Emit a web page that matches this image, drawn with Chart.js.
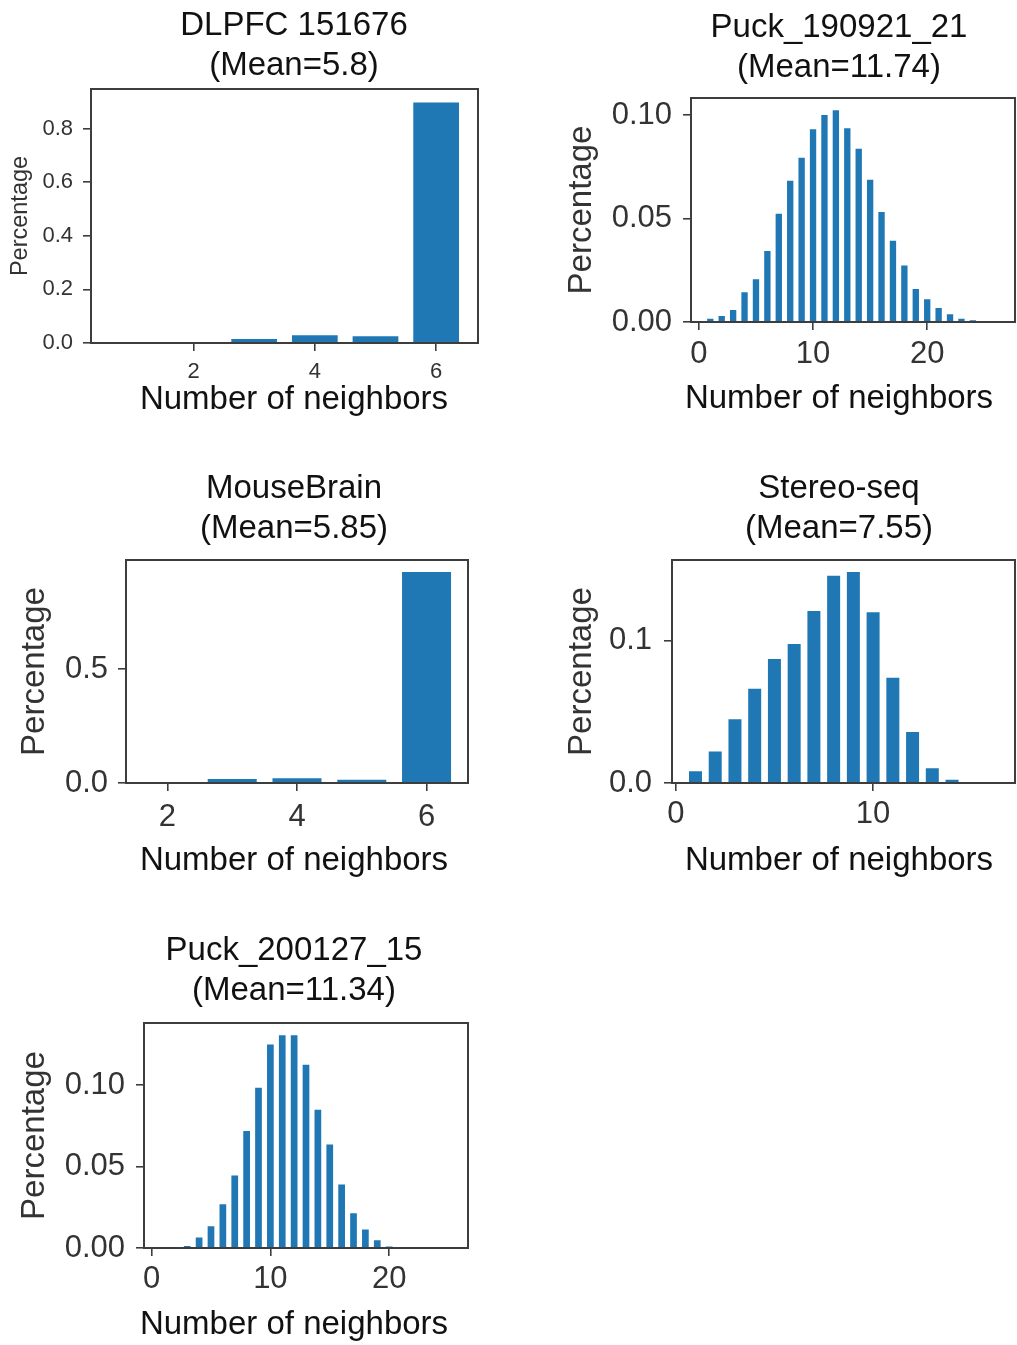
<!DOCTYPE html>
<html>
<head>
<meta charset="utf-8">
<title>Number of neighbors</title>
<script src="https://cdn.jsdelivr.net/npm/chart.js@4.4.1/dist/chart.umd.min.js"></script>
<style>
    html, body { margin: 0; padding: 0; background: #ffffff; width: 1017px; height: 1345px; overflow: hidden; }
    canvas { position: absolute; }
</style>
</head>
<body>
<canvas id="panel1"></canvas>
<canvas id="panel2"></canvas>
<canvas id="panel3"></canvas>
<canvas id="panel4"></canvas>
<canvas id="panel5"></canvas>
<script>
// --- Data ---
const dlpfcNeighbors = [1, 2, 3, 4, 5, 6];
const dlpfcPct = [0.0, 0.001, 0.020, 0.034, 0.030, 0.903];

const puck21Neighbors = [1, 2, 3, 4, 5, 6, 7, 8, 9, 10, 11, 12, 13, 14, 15, 16, 17, 18, 19, 20, 21, 22, 23, 24, 25, 26];
const puck21Pct = [0.0023, 0.0036, 0.0065, 0.0151, 0.0214, 0.0350, 0.0530, 0.0690, 0.0801, 0.0939,
    0.1007, 0.1031, 0.0944, 0.0845, 0.0695, 0.0539, 0.0399, 0.0280, 0.0166, 0.0117,
    0.0075, 0.0044, 0.0023, 0.0012, 0.0004, 0.0002];

const mouseNeighbors = [2, 3, 4, 5, 6];
const mousePct = [0.001, 0.0235, 0.0265, 0.0205, 0.932];

const stereoNeighbors = [1, 2, 3, 4, 5, 6, 7, 8, 9, 10, 11, 12, 13, 14, 15, 16];
const stereoPct = [0.0092, 0.0232, 0.0457, 0.0673, 0.0881, 0.0987, 0.1218, 0.1467, 0.1492, 0.1209,
    0.0750, 0.0368, 0.0113, 0.0033, 0.0005, 0.0002];

const puck15Neighbors = [1, 2, 3, 4, 5, 6, 7, 8, 9, 10, 11, 12, 13, 14, 15, 16, 17, 18, 19, 20, 21, 22, 23, 24, 25];
const puck15Pct = [0.0, 0.0, 0.0021, 0.0073, 0.0142, 0.0277, 0.0454, 0.0728, 0.0993, 0.1259,
    0.1316, 0.1316, 0.1134, 0.0857, 0.0644, 0.0398, 0.0222, 0.0122, 0.0056, 0.0012,
    0.0003, 0.0001, 0.0, 0.0, 0.0001];

const panelTitles = [
    ['DLPFC 151676', '(Mean=5.8)'],
    ['Puck_190921_21', '(Mean=11.74)'],
    ['MouseBrain', '(Mean=5.85)'],
    ['Stereo-seq', '(Mean=7.55)'],
    ['Puck_200127_15', '(Mean=11.34)']
];
const xAxisLabel = 'Number of neighbors';
const yAxisLabel = 'Percentage';

// axis limits and ticks per panel
const xLimits = [[0.31, 6.69], [-0.69, 27.69], [1.36, 6.64], [-0.19, 17.19], [-0.64, 26.64]];
const yLimits = [[0, 0.948], [0, 0.1083], [0, 0.978], [0, 0.1567], [0, 0.1382]];
const xTickValues = [[2, 4, 6], [0, 10, 20], [2, 4, 6], [0, 10], [0, 10, 20]];
const yTickValues = [[0, 0.2, 0.4, 0.6, 0.8], [0, 0.05, 0.1], [0, 0.5], [0, 0.1], [0, 0.05, 0.1]];
const yTickLabels = [
    ['0.0', '0.2', '0.4', '0.6', '0.8'],
    ['0.00', '0.05', '0.10'],
    ['0.0', '0.5'],
    ['0.0', '0.1'],
    ['0.00', '0.05', '0.10']
];

(function() {
    'use strict';

    const FONT = "'Liberation Sans', Arial, sans-serif";
    const BAR_COLOR = '#1f77b4';
    const SPINE_COLOR = '#3d3d3d';
    const TICK_TEXT = '#333333';
    const TITLE_SIZE = 33;
    const TITLE_LH = 1.2;

    // Page placement of each panel: plot box [left, top, right, bottom], column centre,
    // text centres and font sizes. Everything inside the plot comes from the scales.
    const layoutSpec = [
        { id: 'panel1', plot: [91, 89, 478, 343], canvasLeft: 0, center: 294, titleY: 26, xlabelY: 400,
          tickSize: 22, ylabelSize: 23.5, ylabelX: 20.4, xPad: 10, yPad: 10 },
        { id: 'panel2', plot: [691, 98, 1015, 322], canvasLeft: 560, center: 839, titleY: 28, xlabelY: 399,
          tickSize: 31, ylabelSize: 33, ylabelX: 582, xPad: 8.5, yPad: 11 },
        { id: 'panel3', plot: [126, 560, 468, 783], canvasLeft: 0, center: 294, titleY: 489, xlabelY: 861,
          tickSize: 31, ylabelSize: 33, ylabelX: 35, xPad: 10.5, yPad: 10 },
        { id: 'panel4', plot: [672, 560, 1015, 783], canvasLeft: 560, center: 839, titleY: 489, xlabelY: 861,
          tickSize: 31, ylabelSize: 33, ylabelX: 582, xPad: 7.5, yPad: 12 },
        { id: 'panel5', plot: [144, 1023, 468, 1248], canvasLeft: 0, center: 294, titleY: 951, xlabelY: 1324.5,
          tickSize: 31, ylabelSize: 33, ylabelX: 35, xPad: 8, yPad: 11 }
    ];

    // Draws the four spines round the plot area
    const framePlugin = {
        id: 'frame',
        afterDraw: (chart) => {
            const { ctx, chartArea: a } = chart;
            ctx.save();
            ctx.strokeStyle = SPINE_COLOR;
            ctx.lineWidth = 2;
            ctx.strokeRect(a.left, a.top, a.right - a.left, a.bottom - a.top);
            ctx.restore();
        }
    };

    const buildPanel = (i, xs, ys) => {
        const s = layoutSpec[i];
        const [pl, pt, pr, pb] = s.plot;
        const lh = TITLE_SIZE * TITLE_LH;

        // canvas box, centred on the column so title and x label line up
        const left = s.canvasLeft;
        const right = 2 * s.center - left;
        const rawTop = s.titleY - lh / 2;
        const top = Math.floor(rawTop);
        const rawBottom = s.xlabelY + lh / 2;
        const bottom = Math.ceil(rawBottom);

        const canvas = document.getElementById(s.id);
        canvas.width = right - left;
        canvas.height = bottom - top;
        canvas.style.left = left + 'px';
        canvas.style.top = top + 'px';

        const titlePadTop = rawTop - top;
        const titlePadBottom = pt - rawTop - 2 * lh;
        const xAxisHeight = s.xlabelY - lh / 2 - pb;

        // tick marks only, no grid lines inside the plot
        const tickGrid = {
            display: true,
            offset: false,
            drawOnChartArea: false,
            drawTicks: true,
            tickLength: 8,
            color: SPINE_COLOR,
            lineWidth: 1.6
        };

        return new Chart(canvas, {
            type: 'bar',
            data: {
                datasets: [{
                    data: xs.map((x, k) => ({ x: x, y: ys[k] })),
                    backgroundColor: BAR_COLOR,
                    borderColor: '#ffffff',
                    borderWidth: 1.4,
                    borderSkipped: 'start',
                    categoryPercentage: 0.8,
                    barPercentage: 1
                }]
            },
            options: {
                responsive: false,
                animation: false,
                devicePixelRatio: 1,
                layout: { padding: 0 },
                plugins: {
                    legend: { display: false },
                    tooltip: { enabled: false },
                    title: {
                        display: true,
                        text: panelTitles[i],
                        color: '#111111',
                        font: { family: FONT, size: TITLE_SIZE, weight: 'normal', lineHeight: TITLE_LH },
                        padding: { top: titlePadTop, bottom: titlePadBottom }
                    },
                    subtitle: {
                        display: true,
                        position: 'bottom',
                        text: xAxisLabel,
                        color: '#111111',
                        font: { family: FONT, size: TITLE_SIZE, weight: 'normal', lineHeight: TITLE_LH },
                        padding: { top: 0, bottom: bottom - rawBottom }
                    }
                },
                scales: {
                    x: {
                        type: 'linear',
                        position: 'bottom',
                        min: xLimits[i][0],
                        max: xLimits[i][1],
                        offset: false,
                        grid: tickGrid,
                        border: { display: false },
                        ticks: {
                            color: TICK_TEXT,
                            padding: s.xPad,
                            autoSkip: false,
                            maxRotation: 0,
                            font: { family: FONT, size: s.tickSize, lineHeight: 1 },
                            callback: (v) => String(v)
                        },
                        afterBuildTicks: (sc) => { sc.ticks = xTickValues[i].map(v => ({ value: v })); },
                        afterFit: (sc) => { sc.height = xAxisHeight; }
                    },
                    y: {
                        type: 'linear',
                        position: 'left',
                        min: yLimits[i][0],
                        max: yLimits[i][1],
                        grid: tickGrid,
                        border: { display: false },
                        ticks: {
                            color: TICK_TEXT,
                            padding: s.yPad,
                            autoSkip: false,
                            font: { family: FONT, size: s.tickSize, lineHeight: 1 },
                            callback: (v, k) => yTickLabels[i][k]
                        },
                        title: {
                            display: true,
                            text: yAxisLabel,
                            color: TICK_TEXT,
                            font: { family: FONT, size: s.ylabelSize, lineHeight: 1 },
                            padding: { top: s.ylabelX - left - s.ylabelSize / 2, bottom: 0 }
                        },
                        afterBuildTicks: (sc) => { sc.ticks = yTickValues[i].map(v => ({ value: v })); },
                        afterFit: (sc) => { sc.width = pl - left; }
                    },
                    // empty right-hand box, only there to keep the plot where the reference has it
                    spacer: {
                        type: 'linear',
                        axis: 'y',
                        position: 'right',
                        display: true,
                        grid: { display: false },
                        border: { display: false },
                        ticks: { display: false },
                        afterFit: (sc) => { sc.width = right - pr; }
                    }
                }
            },
            plugins: [framePlugin]
        });
    };

    buildPanel(0, dlpfcNeighbors, dlpfcPct);
    buildPanel(1, puck21Neighbors, puck21Pct);
    buildPanel(2, mouseNeighbors, mousePct);
    buildPanel(3, stereoNeighbors, stereoPct);
    buildPanel(4, puck15Neighbors, puck15Pct);
})();
</script>
</body>
</html>
